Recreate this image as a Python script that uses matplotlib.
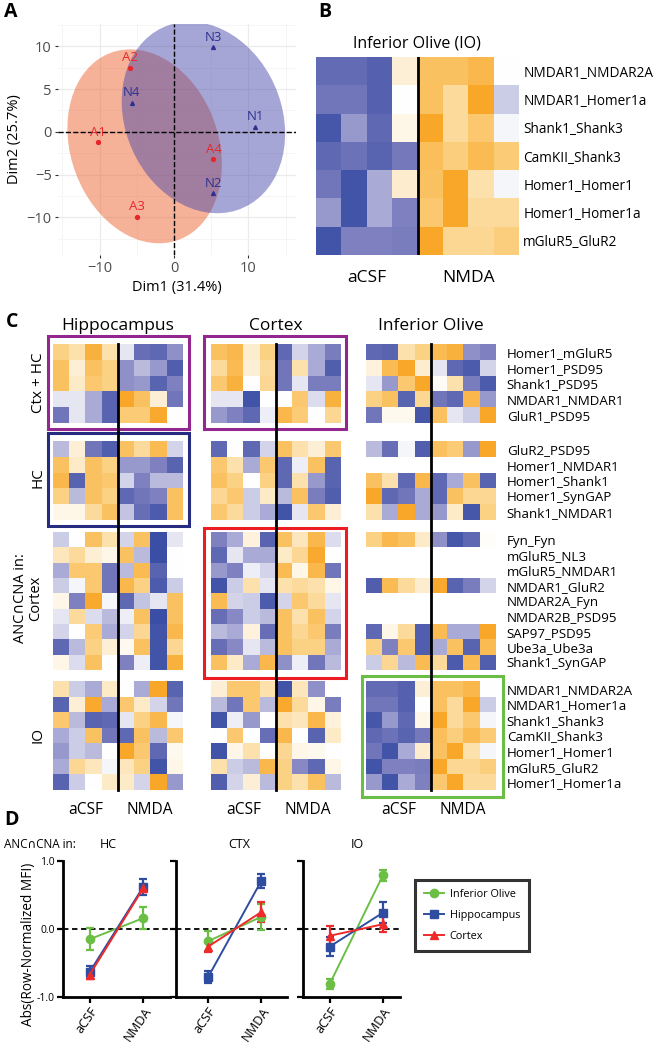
import numpy as np
import matplotlib
matplotlib.use('Agg')
import matplotlib.pyplot as plt
from matplotlib.patches import Ellipse, Rectangle
from matplotlib.lines import Line2D
from matplotlib.colors import LinearSegmentedColormap

plt.rcParams['font.family'] = ['Open Sans', 'DejaVu Sans']
nan = np.nan

# ------------------------------------------------------------------ data
# Panel A (PCA)
pca_labels = ['A1', 'A2', 'A3', 'A4', 'N1', 'N2', 'N3', 'N4']
pca_dim1 = [-10.2, -5.9, -5.0, 5.3, 10.9, 5.3, 5.3, -5.7]
pca_dim2 = [-1.2, 7.5, -9.9, -3.2, 0.6, -7.2, 9.9, 3.4]
pca_group = ['aCSF'] * 4 + ['NMDA'] * 4

# Panel C row labels
labels_ctxhc = ["Homer1_mGluR5", "Homer1_PSD95", "Shank1_PSD95", "NMDAR1_NMDAR1", "GluR1_PSD95"]
labels_hc = ["GluR2_PSD95", "Homer1_NMDAR1", "Homer1_Shank1", "Homer1_SynGAP", "Shank1_NMDAR1"]
labels_cortex = ["Fyn_Fyn", "mGluR5_NL3", "mGluR5_NMDAR1", "NMDAR1_GluR2", "NMDAR2A_Fyn",
                 "NMDAR2B_PSD95", "SAP97_PSD95", "Ube3a_Ube3a", "Shank1_SynGAP"]
labels_io = ["NMDAR1_NMDAR2A", "NMDAR1_Homer1a", "Shank1_Shank3", "CamKII_Shank3",
             "Homer1_Homer1", "mGluR5_GluR2", "Homer1_Homer1a"]
labels_b = ["NMDAR1_NMDAR2A", "NMDAR1_Homer1a", "Shank1_Shank3", "CamKII_Shank3",
            "Homer1_Homer1", "Homer1_Homer1a", "mGluR5_GluR2"]

# row-normalized MFI (4 aCSF columns, 4 NMDA columns)
hc_ctxhc = [
    [1.5, 1.0, 2.5, 1.0, -0.3, -2.0, -2.2, -1.3],
    [2.0, 0.5, 2.0, 1.5, -1.3, -0.8, -1.2, -2.5],
    [2.0, 0.7, 1.8, 1.5, -1.3, -1.2, -2.3, -1.5],
    [-0.3, -0.3, -1.0, -2.3, 2.8, 2.0, 0.5, -1.8],
    [-1.8, -0.3, -1.0, -2.3, 1.7, 1.7, 2.7, 0.0],
]
hc_hc = [
    [-0.8, 0.5, -1.8, -2.5, 2.0, 1.2, 2.2, -0.5],
    [2.0, 0.7, 2.0, 1.5, -1.2, -1.2, -1.5, -2.3],
    [2.3, -2.3, 2.0, 1.8, -0.5, -1.5, -0.8, -0.8],
    [1.5, -0.8, 2.0, 1.5, -2.2, -1.8, -1.5, 2.0],
    [0.3, 0.3, 1.2, 2.0, -0.7, -2.0, -2.6, 2.0],
]
hc_cortex = [
    [-0.6, 0.0, 2.0, 1.0, -0.5, 2.0, -3.0, -0.3],
    [0.8, 1.2, 0.5, 0.3, 2.0, -0.8, -3.0, 0.0],
    [-1.0, 1.8, 1.8, -1.8, -0.8, 2.2, -2.3, 0.0],
    [-0.6, -0.1, 1.8, -1.8, 2.3, 1.5, -2.6, -0.6],
    [0.3, -1.5, 2.7, -0.1, -2.2, -0.7, -0.3, 2.0],
    [-0.3, 1.2, -0.4, -0.8, -0.2, 2.0, -3.0, 2.0],
    [-0.5, 0.0, 1.7, -1.0, -0.5, 1.3, -2.8, 2.3],
    [-2.2, -0.8, 1.5, 0.5, 0.2, 2.0, -2.8, 1.3],
    [0.3, -0.4, 2.0, 0.0, -1.5, -0.2, -2.8, 2.5],
]
hc_io = [
    [1.0, -0.6, -1.0, 0.7, 0.0, -1.0, 2.8, -2.3],
    [-2.3, 0.5, 2.7, -1.0, 1.8, 0.7, -0.5, -1.8],
    [1.8, -0.8, -2.3, -2.2, -0.3, 1.5, 2.3, -0.1],
    [-1.0, -0.6, 2.0, -1.8, -2.2, 2.0, -0.8, 1.8],
    [-1.2, -0.6, -0.8, 0.0, 2.8, 1.8, -2.2, 0.2],
    [-1.0, 1.3, 0.8, -0.1, 0.8, 1.5, -2.8, 0.3],
    [-2.3, -0.6, 0.0, 0.7, 0.7, -0.5, 2.8, -1.2],
]
ctx_ctxhc = [
    [2.0, 2.3, 0.6, 1.5, -2.2, -0.5, -1.0, -1.6],
    [1.2, 2.2, 0.5, 1.2, -1.8, 1.0, -1.0, -2.5],
    [1.8, 2.5, 0.0, 1.3, -1.8, -0.3, -1.6, -1.6],
    [-0.3, -0.3, -2.8, 0.0, 0.0, 1.8, -0.4, 2.5],
    [-1.2, -1.5, -2.2, -0.2, 2.3, 1.7, 0.0, 1.3],
]
ctx_hc = [
    [-2.2, 0.0, -2.2, -0.5, 2.0, 1.0, 0.5, 1.8],
    [1.8, 1.0, -1.0, 1.8, -2.2, -0.2, 2.0, -2.3],
    [2.0, 1.5, 0.0, 1.5, -2.2, 1.0, -1.2, -2.3],
    [1.3, 1.8, -0.6, 0.7, -0.8, 2.0, -1.6, -2.5],
    [1.8, 1.2, -0.6, -1.0, -2.8, -0.3, 1.8, 0.5],
]
ctx_cortex = [
    [-1.5, -1.0, 0.4, -2.3, 2.0, 0.8, 2.3, -0.4],
    [-2.2, -0.3, -1.0, -1.0, 0.7, 1.3, 2.7, 0.0],
    [-1.2, -1.5, -0.2, -0.5, 2.2, 0.3, 2.3, -1.8],
    [-2.8, -0.6, 1.0, -0.3, 1.0, 1.2, 1.0, 0.3],
    [2.2, -0.5, -0.6, -2.6, -0.5, 1.8, 1.2, -0.3],
    [-2.0, -1.4, -0.6, -0.8, 2.0, 1.0, 2.0, -0.5],
    [-0.8, -1.0, 0.4, -2.0, 2.0, 1.3, 1.8, -1.6],
    [-2.0, -1.4, -0.3, -0.8, 2.0, 1.5, 1.5, -1.0],
    [2.0, 0.7, -1.0, 2.3, -1.3, -0.2, -1.8, -0.8],
]
ctx_io = [
    [0.5, 1.8, 1.8, 1.0, -2.8, 0.8, -1.3, 0.0],
    [-0.8, -1.8, 1.8, -0.8, 2.7, 1.2, 0.3, -1.6],
    [-2.8, -0.2, -1.2, 0.0, 1.0, 0.8, 2.3, 0.4],
    [0.0, 1.8, 0.0, -2.0, 2.3, 0.0, -2.3, 0.7],
    [-2.8, 0.3, 1.0, 0.0, 1.3, 0.3, 0.2, 0.0],
    [1.0, -0.6, -0.8, 2.3, 1.5, -1.4, -2.2, 0.3],
    [-2.5, -0.5, 0.5, -0.8, 1.5, 1.0, 2.0, -0.8],
]
io_ctxhc = [
    [-2.2, -2.3, 1.0, 1.5, 2.2, 2.5, -1.3, -1.5],
    [0.4, 2.2, 2.8, 0.6, -0.3, -2.2, -2.6, -0.5],
    [-0.3, -1.2, 1.8, 2.8, 0.1, 1.0, -1.6, -2.6],
    [1.5, 2.0, -2.3, 1.3, -1.8, -2.2, 2.3, -1.2],
    [-1.8, 0.2, 0.2, -2.7, 2.0, -0.3, -0.6, 2.8],
]
io_hc = [
    [-0.8, -2.0, -0.1, -2.5, 2.0, 1.7, -1.2, 2.8],
    [nan] * 8,
    [2.0, 1.0, -2.2, 2.3, -2.2, -1.0, 2.0, -2.3],
    [2.8, -2.2, -1.8, -1.0, -2.2, 2.0, 1.3, 1.3],
    [1.0, -1.0, 2.8, -1.0, -1.2, 0.7, -2.7, 1.5],
]
io_cortex = [
    [1.5, 2.3, 2.0, 0.7, -1.3, -2.7, -2.2, 0.05],
    [nan] * 8,
    [nan] * 8,
    [-2.5, 2.2, 1.2, 0.6, 2.7, -2.3, -1.6, -0.5],
    [nan] * 8,
    [nan] * 8,
    [-2.2, 0.3, 1.2, -2.5, 2.2, -1.0, -1.0, 2.8],
    [1.5, -1.5, 1.8, -2.5, -1.0, 2.0, -2.3, 2.2],
    [-0.6, 1.3, -0.8, 2.2, 1.2, -2.6, 2.2, -2.5],
]
io_io = [
    [-2.1, -2.1, -2.4, 0.5, 2.0, 2.0, 2.3, 0.0],
    [-1.8, -1.8, -2.4, 0.0, 2.0, 1.2, 2.8, -0.6],
    [-2.7, -1.2, -2.2, 0.3, 2.8, 1.2, 1.8, -0.1],
    [-2.2, -1.9, -2.3, -1.7, 2.1, 1.6, 2.2, 1.7],
    [-1.8, -2.8, -1.0, 0.6, 2.0, 2.8, 1.0, -0.1],
    [-2.8, -1.5, -1.5, -1.6, 2.8, 1.3, 1.3, 1.6],
    [-1.2, -2.8, -1.0, -1.5, 1.8, 2.8, 1.2, 1.2],
]

# Panel D
d_conditions = ['aCSF', 'NMDA']
d_series = ['Inferior Olive', 'Hippocampus', 'Cortex']
d_panels = ['HC', 'CTX', 'IO']
d_mean = {
    'HC':  {'Inferior Olive': [-0.15, 0.16], 'Hippocampus': [-0.63, 0.62], 'Cortex': [-0.67, 0.60]},
    'CTX': {'Inferior Olive': [-0.18, 0.18], 'Hippocampus': [-0.71, 0.71], 'Cortex': [-0.26, 0.25]},
    'IO':  {'Inferior Olive': [-0.81, 0.79], 'Hippocampus': [-0.26, 0.24], 'Cortex': [-0.10, 0.07]},
}
d_err = {
    'HC':  {'Inferior Olive': [0.16, 0.16], 'Hippocampus': [0.085, 0.12], 'Cortex': [0.06, 0.06]},
    'CTX': {'Inferior Olive': [0.15, 0.19], 'Hippocampus': [0.09, 0.10], 'Cortex': [0.08, 0.14]},
    'IO':  {'Inferior Olive': [0.07, 0.08], 'Hippocampus': [0.14, 0.15], 'Cortex': [0.15, 0.12]},
}

# ------------------------------------------------------------------ figure
W, H = 654, 1046
fig = plt.figure(figsize=(W / 100, H / 100), dpi=100)


def px_axes(x0, y0, x1, y1):
    return fig.add_axes([x0 / W, 1 - y1 / H, (x1 - x0) / W, (y1 - y0) / H])


def ftext(x, y, s, **kw):
    return fig.text(x / W, 1 - y / H, s, **kw)


def fline(x0, y0, x1, y1, **kw):
    fig.add_artist(Line2D([x0 / W, x1 / W], [1 - y0 / H, 1 - y1 / H],
                          transform=fig.transFigure, **kw))


def frect(x0, y0, x1, y1, color, lw=2.2):
    fig.add_artist(Rectangle((x0 / W, 1 - y1 / H), (x1 - x0) / W, (y1 - y0) / H,
                             transform=fig.transFigure, fill=False, edgecolor=color, lw=lw))


cmap = LinearSegmentedColormap.from_list(
    'bo', [(0.0, '#3A4EA5'), (0.25, '#7F80C0'), (0.5, '#FFFFFF'),
           (0.75, '#FCD285'), (1.0, '#F9A11B')])
cmap.set_bad((1, 1, 1, 0))

# ------------------------------------------------------------------ Panel A
RED = '#E8262A'
NAVY = '#2E3192'
axA = px_axes(58, 24, 296, 255)
axA.set_xlim(-15.6, 16.4)
axA.set_ylim(-14.4, 12.6)
for s in axA.spines.values():
    s.set_visible(False)
axA.set_xticks([-10, 0, 10])
axA.set_yticks([-10, -5, 0, 5, 10])
axA.set_xticks([-15, -5, 5, 15], minor=True)
axA.set_yticks([-12.5, -7.5, -2.5, 2.5, 7.5, 12.5], minor=True)
axA.grid(which='major', color='#EBEBEB', lw=0.9)
axA.grid(which='minor', color='#F4F4F4', lw=0.6)
axA.tick_params(which='major', length=2.5, color='#333333', labelsize=10.5,
                labelcolor='#4D4D4D', pad=2)
axA.tick_params(which='minor', length=0)
axA.set_axisbelow(True)


def cov_ellipse(xs, ys, r, **kw):
    xs, ys = np.asarray(xs), np.asarray(ys)
    vals, vecs = np.linalg.eigh(np.cov(xs, ys))
    order = vals.argsort()[::-1]
    vals, vecs = vals[order], vecs[:, order]
    ang = np.degrees(np.arctan2(vecs[1, 0], vecs[0, 0]))
    return Ellipse((xs.mean(), ys.mean()), 2 * r * np.sqrt(vals[0]), 2 * r * np.sqrt(vals[1]),
                   angle=ang, **kw)


gx = np.array(pca_dim1)
gy = np.array(pca_dim2)
grp = np.array(pca_group)
axA.add_patch(cov_ellipse(gx[grp == 'aCSF'], gy[grp == 'aCSF'], 1.58,
                          facecolor='#EE6633', alpha=0.5, lw=0, zorder=1))
axA.add_patch(cov_ellipse(gx[grp == 'NMDA'], gy[grp == 'NMDA'], 1.58,
                          facecolor='#4646AA', alpha=0.48, lw=0, zorder=2))
axA.axhline(0, color='black', ls='--', lw=1.0, zorder=3)
axA.axvline(0, color='black', ls='--', lw=1.0, zorder=3)
for lab, x, y, g in zip(pca_labels, pca_dim1, pca_dim2, pca_group):
    c = RED if g == 'aCSF' else NAVY
    mk = 'o' if g == 'aCSF' else '^'
    axA.plot(x, y, marker=mk, color=c, ms=2.8, zorder=4)
    axA.annotate(lab, (x, y), xytext=(0, 2.5), textcoords='offset points', ha='center',
                 va='bottom', color=c, fontsize=9.5, zorder=5)
axA.set_xlabel('Dim1 (31.4%)', fontsize=10.5, labelpad=3)
axA.set_ylabel('Dim2 (25.7%)', fontsize=10.5, labelpad=3)

# ------------------------------------------------------------------ Panel B
axB = px_axes(316, 57, 519, 255)
b_values = [io_io[labels_io.index(l)] for l in labels_b]
axB.imshow(np.array(b_values), cmap=cmap, vmin=-3, vmax=3, aspect='auto',
           interpolation='nearest')
for s in axB.spines.values():
    s.set_visible(False)
axB.set_xticks([1.5, 5.5])
axB.set_xticklabels(['aCSF', 'NMDA'], fontsize=12.5)
axB.tick_params(axis='x', length=0, pad=11)
axB.yaxis.tick_right()
axB.set_yticks(range(len(labels_b)))
axB.set_yticklabels(labels_b, fontsize=9.8)
axB.tick_params(axis='y', length=0, pad=3)
axB.axvline(3.5, color='black', lw=2)
ftext(417, 43, 'Inferior Olive (IO)', ha='center', va='center', fontsize=11.5)

# ------------------------------------------------------------------ Panel C
col_x = [53, 211, 366]
cell_w = 16.2
block_y = [(344, 423), (441, 520), (532, 670), (681, 790)]
tissue_data = [
    [hc_ctxhc, hc_hc, hc_cortex, hc_io],
    [ctx_ctxhc, ctx_hc, ctx_cortex, ctx_io],
    [io_ctxhc, io_hc, io_cortex, io_io],
]
block_labels = [labels_ctxhc, labels_hc, labels_cortex, labels_io]
tissue_titles = ['Hippocampus', 'Cortex', 'Inferior Olive']

for ti, (x0, blocks) in enumerate(zip(col_x, tissue_data)):
    x1 = x0 + 8 * cell_w
    for bi, ((y0, y1), data) in enumerate(zip(block_y, blocks)):
        ax = px_axes(x0, y0, x1, y1)
        ax.imshow(np.array(data, dtype=float), cmap=cmap, vmin=-3, vmax=3,
                  aspect='auto', interpolation='nearest')
        for s in ax.spines.values():
            s.set_visible(False)
        ax.set_xticks([])
        ax.set_yticks([])
        if ti == 2:
            ax.yaxis.tick_right()
            ax.set_yticks(range(len(block_labels[bi])))
            ax.set_yticklabels(block_labels[bi], fontsize=9.6)
            ax.tick_params(axis='y', length=0, pad=8)
        if bi == 3:
            ax.set_xticks([1.5, 5.5])
            ax.set_xticklabels(['aCSF', 'NMDA'], fontsize=11.2)
            ax.tick_params(axis='x', length=0, pad=9)
    xm = x0 + 4 * cell_w
    fline(xm, block_y[0][0], xm, block_y[-1][1], color='black', lw=2)
    ftext(x0 + 4 * cell_w, 326, tissue_titles[ti], ha='center', va='center', fontsize=12.5)

frect(48, 336, 189, 429, '#92278F')
frect(48, 433, 189, 526, '#262C80')
frect(204, 336, 346, 429, '#92278F')
frect(204, 528, 346, 678, '#ED1C24')
frect(362, 676, 503, 797, '#6ABD45')

ftext(38, 383, 'Ctx + HC', rotation=90, ha='center', va='center', fontsize=11)
ftext(38, 478, 'HC', rotation=90, ha='center', va='center', fontsize=11)
ftext(28, 598, 'ANC\u2229CNA in:\nCortex', rotation=90, ha='center', va='center',
      fontsize=10.5, multialignment='center', linespacing=1.05)
ftext(38, 735, 'IO', rotation=90, ha='center', va='center', fontsize=11)

# ------------------------------------------------------------------ Panel D
colors = {'Inferior Olive': '#6CBF45', 'Hippocampus': '#2F4DA0', 'Cortex': '#EE2A2A'}
markers = {'Inferior Olive': 'o', 'Hippocampus': 's', 'Cortex': '^'}
d_axes_px = [(63, 170, (-0.5, 1.5)), (176, 287, (-0.6, 1.48)), (303, 400, (-0.5, 1.32))]
title_x = [108, 239, 357]
for pi, (pname, (x0, x1, xl)) in enumerate(zip(d_panels, d_axes_px)):
    ax = px_axes(x0, 861, x1, 997)
    ax.set_xlim(*xl)
    ax.set_ylim(-1, 1)
    ax.axhline(0, color='black', ls=(0, (3, 2)), lw=1.3, zorder=1)
    xs = np.arange(len(d_conditions))
    for sname in d_series:
        ax.errorbar(xs, d_mean[pname][sname], yerr=d_err[pname][sname],
                    color=colors[sname], marker=markers[sname], ms=6, lw=1.4,
                    elinewidth=1.6, capsize=3, capthick=1.6, zorder=3)
    ax.spines['top'].set_visible(False)
    ax.spines['right'].set_visible(False)
    ax.spines['left'].set_linewidth(2)
    ax.spines['bottom'].set_linewidth(2)
    ax.set_xticks(xs)
    ax.set_xticklabels(d_conditions, rotation=55, ha='right', rotation_mode='anchor',
                       fontsize=9.2)
    ax.tick_params(axis='x', length=4, width=1.6, pad=1.5)
    ax.set_yticks([-1, 0, 1])
    if pi == 0:
        ax.set_yticklabels(['-1.0', '0.0', '1.0'], fontsize=7.5)
    else:
        ax.set_yticklabels([])
    ax.tick_params(axis='y', length=4, width=1.6, pad=2)
    ftext(title_x[pi], 845, pname, ha='center', va='center', fontsize=9)

ftext(4, 845, 'ANC\u2229CNA in:', ha='left', va='center', fontsize=8.5)
ftext(29, 944, 'Abs(Row-Normalized MFI)', rotation=90, ha='center', va='center', fontsize=9.8)

handles = [Line2D([], [], color=colors[s], marker=markers[s], ms=6, lw=1.4) for s in d_series]
leg = fig.legend(handles, d_series, loc='upper left', bbox_to_anchor=(415 / W, 1 - 880 / H),
                 frameon=True, fancybox=False, fontsize=7.8, handlelength=1.9,
                 borderpad=0.8, labelspacing=0.95, handletextpad=0.5, borderaxespad=0)
leg.get_frame().set_edgecolor('black')
leg.get_frame().set_linewidth(2.2)

# ------------------------------------------------------------------ panel letters
for letter, x, y in [('A', 4, 12), ('B', 318, 12), ('C', 6, 322), ('D', 4, 820)]:
    ftext(x, y, letter, ha='left', va='center', fontsize=14, fontweight='bold')

fig.savefig('out.png', dpi=100)
